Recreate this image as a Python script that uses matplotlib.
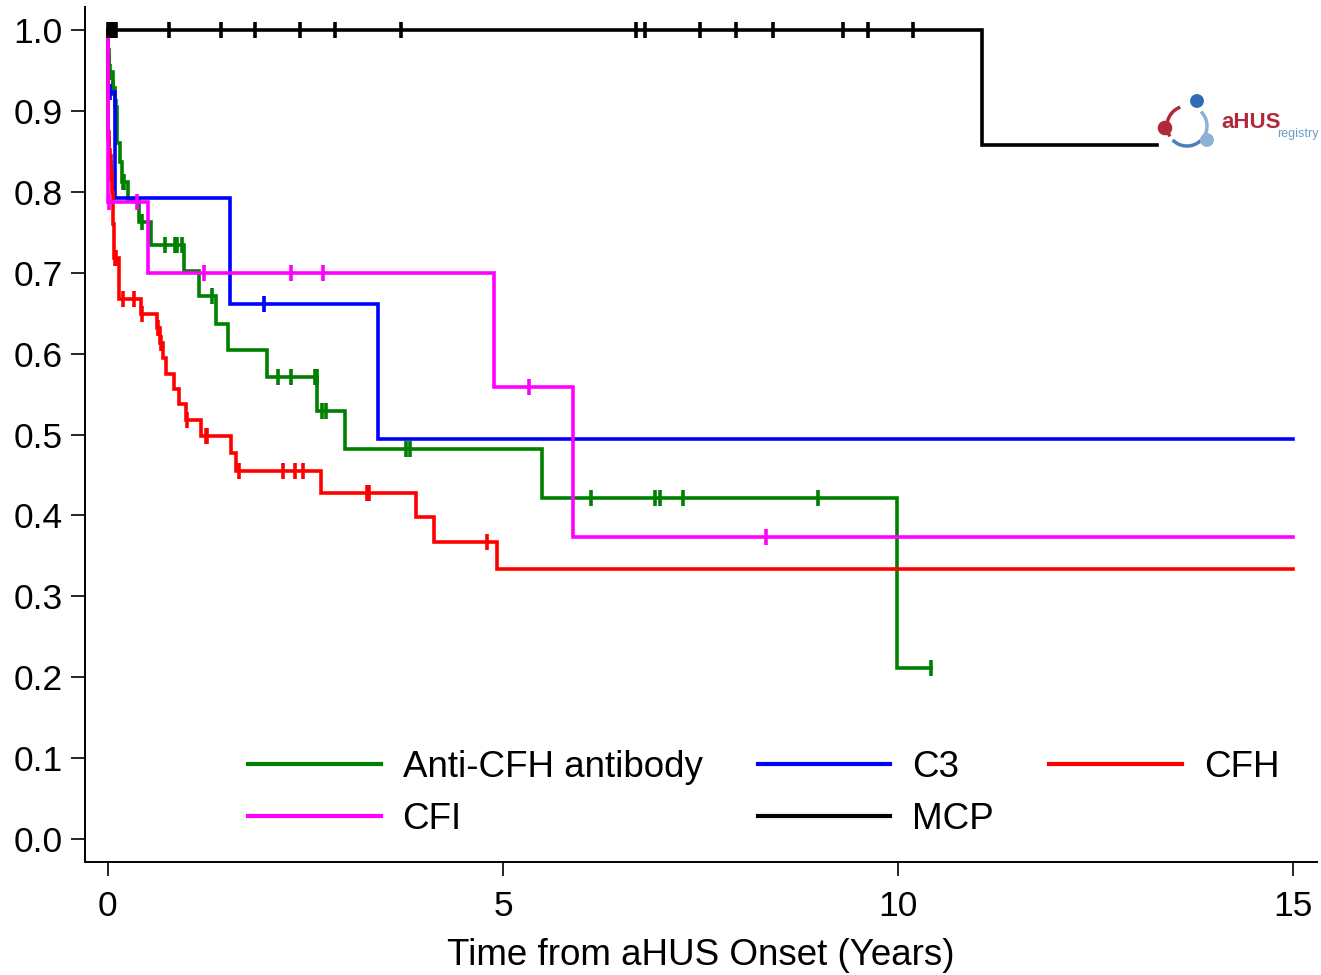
import numpy as np
import matplotlib
matplotlib.use('Agg')
import matplotlib.pyplot as plt

plt.rcParams['font.family'] = ['Liberation Sans', 'DejaVu Sans']

# Kaplan-Meier steps: time (years) at which survival becomes the value
green_t = [0, 0.005, 0.02, 0.06, 0.09, 0.11, 0.15, 0.18, 0.25, 0.39, 0.54,
           0.96, 1.15, 1.37, 1.52, 2.01, 2.65, 3.0, 5.49, 9.99]
green_s = [1.0, 0.967, 0.948, 0.928, 0.905, 0.86, 0.836, 0.812, 0.79, 0.763,
           0.734, 0.702, 0.671, 0.637, 0.604, 0.571, 0.529, 0.482, 0.422, 0.211]
green_cens = [0.01, 0.03, 0.07, 0.10, 0.19, 0.20, 0.43, 0.72, 0.85, 0.87, 0.94,
              1.32, 2.15, 2.32, 2.62, 2.64, 2.71, 2.76, 3.77, 3.82, 6.11, 6.92,
              6.99, 7.28, 8.99, 10.42]

blue_t = [0, 0.003, 0.09, 1.54, 3.42]
blue_s = [1.0, 0.923, 0.792, 0.661, 0.494]
blue_cens = [0.03, 1.97]

magenta_t = [0, 0.003, 0.51, 4.89, 5.89]
magenta_s = [1.0, 0.787, 0.699, 0.559, 0.373]
magenta_cens = [0.01, 0.37, 1.21, 2.32, 2.72, 5.33, 8.33]

red_t = [0, 0.003, 0.02, 0.03, 0.04, 0.05, 0.06, 0.08, 0.14, 0.42, 0.62, 0.66,
         0.70, 0.73, 0.84, 0.90, 0.99, 1.18, 1.56, 1.62, 2.70, 3.90, 4.13, 4.92]
red_s = [1.0, 0.866, 0.852, 0.837, 0.823, 0.80, 0.76, 0.718, 0.667, 0.649,
         0.632, 0.613, 0.595, 0.575, 0.556, 0.538, 0.518, 0.498, 0.477, 0.455,
         0.428, 0.398, 0.367, 0.334]
red_cens = [0.01, 0.035, 0.045, 0.09, 0.10, 0.19, 0.33, 0.43, 0.63, 0.67, 1.00,
            1.24, 1.25, 1.66, 2.21, 2.37, 2.47, 3.28, 3.30, 4.80]

black_t = [0, 11.06]
black_s = [1.0, 0.858]
black_cens = [0.0, 0.02, 0.04, 0.06, 0.08, 0.10, 0.77, 1.43, 1.86, 2.43, 2.87,
              3.71, 6.68, 6.80, 7.49, 7.95, 8.42, 9.30, 9.62, 10.19]

groups = [
    ('Anti-CFH antibody', green_t, green_s, green_cens, 10.42, '#008000'),
    ('CFI', magenta_t, magenta_s, magenta_cens, 15.0, '#ff00ff'),
    ('C3', blue_t, blue_s, blue_cens, 15.0, '#0000ff'),
    ('MCP', black_t, black_s, black_cens, 13.28, '#000000'),
    ('CFH', red_t, red_s, red_cens, 15.0, '#ff0000'),
]
draw_order = [0, 2, 4, 1, 3]

W, H = 1321, 975
fig = plt.figure(figsize=(W / 100, H / 100), dpi=100)
ax = fig.add_axes([85 / W, 113 / H, 1232 / W, 855 / H])

handles = {}
for i in draw_order:
    label, t, s, cens, t_end, col = groups[i]
    tt = np.append(t, t_end)
    ss = np.append(s, s[-1])
    ln, = ax.step(tt, ss, where='post', color=col, lw=2.6, label=label,
                  solid_joinstyle='miter')
    handles[i] = ln
    cens = np.asarray(cens)
    idx = np.searchsorted(t, cens, side='right') - 1
    cy = np.asarray(s)[idx]
    ax.plot(cens, cy, ls='none', marker='|', ms=11, mew=2.6, color=col)

ax.set_xlim(-0.29, 15.3)
ax.set_ylim(-0.028, 1.028)
ax.set_xticks([0, 5, 10, 15])
ax.set_yticks(np.arange(0, 1.01, 0.1))
ax.set_yticklabels([f'{v:.1f}' for v in np.arange(0, 1.01, 0.1)])
for side in ['top', 'right']:
    ax.spines[side].set_visible(False)
for side in ['left', 'bottom']:
    ax.spines[side].set_linewidth(1.4)
ax.tick_params(axis='both', labelsize=25.5, width=1.2, length=10, direction='out')
ax.tick_params(axis='x', pad=10)
ax.tick_params(axis='y', pad=6)
ax.set_xlabel('Time from aHUS Onset (Years)', fontsize=26.5, labelpad=11)

leg = ax.legend([handles[i] for i in range(5)], [g[0] for g in groups],
                ncol=3, frameon=False, fontsize=26.5, loc='upper left',
                bbox_to_anchor=(248 / W, 1 - 750 / H),
                bbox_transform=fig.transFigure, borderpad=0,
                handlelength=3.6, handletextpad=0.6, columnspacing=1.5,
                labelspacing=0.45, borderaxespad=0)
for lh in leg.get_lines():
    lh.set_linewidth(3)

# registry logo, drawn roughly
lax = fig.add_axes([1157 / W, 1 - 160 / H, 164 / W, 68 / H])
lax.set_xlim(0, 164)
lax.set_ylim(68, 0)
lax.axis('off')
for a0, a1, c in [(2.0, 3.6, '#b0283a'), (4.0, 5.4, '#4a7fb8'), (5.6, 7.0, '#8db0d6')]:
    a = np.linspace(a0, a1, 30)
    lax.plot(30 + 20 * np.cos(a), 34 - 20 * np.sin(a), color=c, lw=2.5)
lax.scatter([8, 40, 50], [36, 9, 48], s=[90, 80, 80],
            color=['#b0283a', '#2e6db4', '#8db0d6'], zorder=3)
lax.text(64, 30, 'aHUS', color='#b0283a', fontsize=16, fontweight='bold',
         va='center', ha='left')
lax.text(162, 42, 'registry', color='#6b9ccc', fontsize=9, va='center', ha='right')

fig.savefig('out.png', dpi=100)
